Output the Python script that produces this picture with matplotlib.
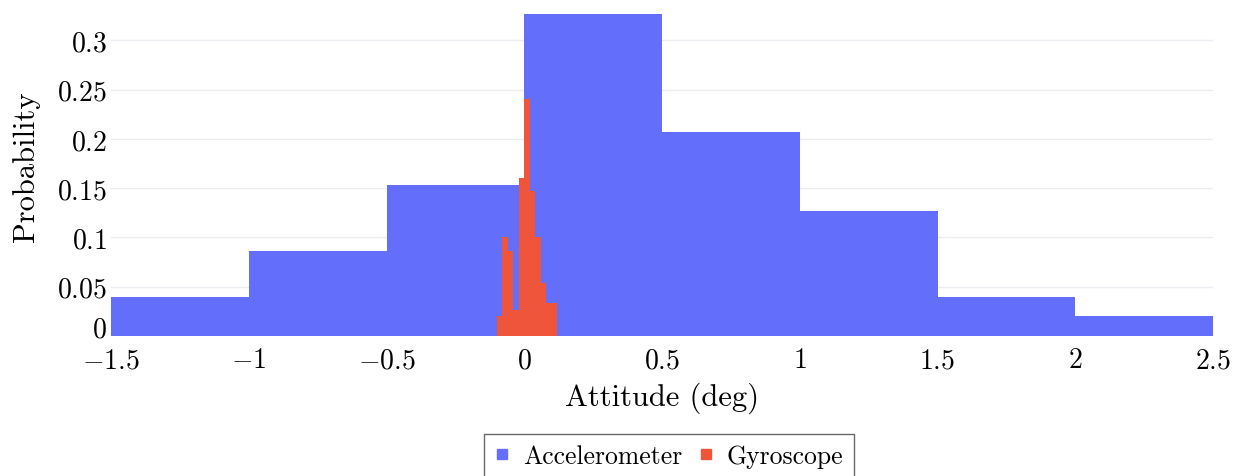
import matplotlib
matplotlib.use("Agg")
import matplotlib.pyplot as plt
import matplotlib.transforms as mtransforms
import numpy as np

plt.rcParams['mathtext.fontset'] = 'cm'
plt.rcParams['font.family'] = ['cmr10', 'DejaVu Serif']

# Histogram data (probability per bin)
acc_edges = [-1.5, -1.0, -0.5, 0.0, 0.5, 1.0, 1.5, 2.0, 2.5]
acc_prob = [0.04, 0.0867, 0.1533, 0.3267, 0.2067, 0.1267, 0.04, 0.02]

gyro_edges = [-0.10, -0.08, -0.06, -0.04, -0.02, 0.0, 0.02, 0.04, 0.06, 0.08, 0.10, 0.12]
gyro_prob = [0.02, 0.10, 0.0867, 0.0267, 0.16, 0.24, 0.1467, 0.10, 0.0533, 0.0333, 0.0333]

x_ticks = [-1.5, -1, -0.5, 0, 0.5, 1, 1.5, 2, 2.5]
x_labels = ['$-1.5$', '$-1$', '$-0.5$', '$0$', '$0.5$', '$1$', '$1.5$', '$2$', '$2.5$']
y_ticks = [0, 0.05, 0.1, 0.15, 0.2, 0.25, 0.3]
y_labels = ['$0$', '$0.05$', '$0.1$', '$0.15$', '$0.2$', '$0.25$', '$0.3$']

BLUE = '#636EFA'
RED = '#EF553B'

fig = plt.figure(figsize=(12.34, 4.77), dpi=100)
ax = fig.add_axes([111 / 1234, 1 - 337 / 477, (1213 - 111) / 1234, (337 - 15) / 477])

ax.stairs(acc_prob, acc_edges, fill=True, color=BLUE, label='Accelerometer', zorder=2)
ax.stairs(gyro_prob, gyro_edges, fill=True, color=RED, label='Gyroscope', zorder=3)

ax.set_xlim(-1.5, 2.5)
ax.set_ylim(0, max(acc_prob))

ax.set_xticks(x_ticks)
ax.set_xticklabels(x_labels)
ax.set_yticks(y_ticks)
ax.set_yticklabels(y_labels)
ax.tick_params(axis='both', length=0, labelsize=20)
ax.tick_params(axis='x', pad=8)
ax.tick_params(axis='y', pad=3)

# plotly nudges the zero label up
zero_lab = ax.get_yticklabels()[0]
zero_lab.set_transform(zero_lab.get_transform() + mtransforms.ScaledTranslation(0, 7 / 72, fig.dpi_scale_trans))

ax.grid(axis='y', color='#ebedf2', linewidth=1, zorder=0)
ax.set_axisbelow(True)
for s in ax.spines.values():
    s.set_visible(False)

ax.set_xlabel('Attitude (deg)', fontsize=22, labelpad=6)
ax.set_ylabel('Probability', fontsize=22)
ax.yaxis.set_label_coords(-0.064, 0.53)

h1 = plt.Line2D([], [], marker='s', linestyle='none', color=BLUE, markersize=7)
h2 = plt.Line2D([], [], marker='s', linestyle='none', color=RED, markersize=7)
leg = fig.legend([h1, h2], ['Accelerometer', 'Gyroscope'], loc='upper center',
                 bbox_to_anchor=(669 / 1234, 1 - 435 / 477), ncol=2, fontsize=18.5,
                 frameon=True, fancybox=False, edgecolor='#444444', borderaxespad=0,
                 handletextpad=0.5, columnspacing=0.65, borderpad=0.4, handlelength=0.6)
leg.get_frame().set_linewidth(1)

fig.savefig('out.png', dpi=100)
